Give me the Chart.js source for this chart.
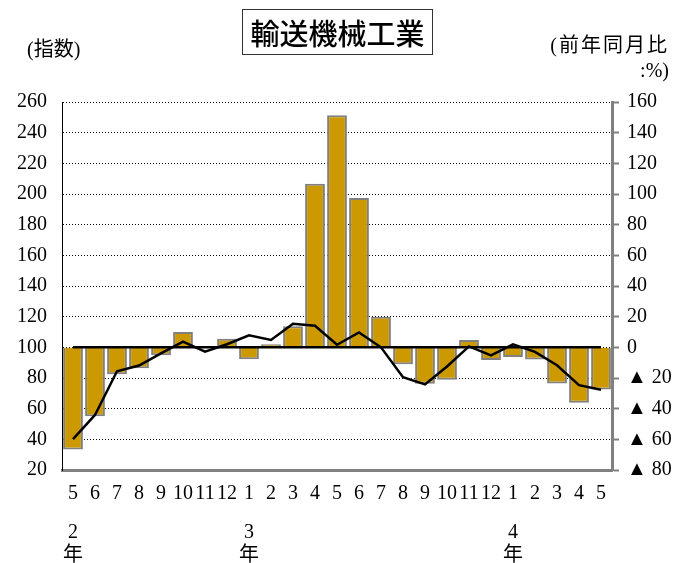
<!DOCTYPE html>
<html>
<head>
<meta charset="utf-8">
<script src="https://cdn.jsdelivr.net/npm/chart.js@4/dist/chart.umd.min.js"></script>
<style>
  body { margin: 0; background: #fff; }
  #wrap { position: relative; width: 682px; height: 563px; }
  #chart { position: absolute; left: 0; top: 0; }
  .lbl { position: absolute; font-family: "Liberation Serif", "Noto Sans CJK JP", serif; font-size: 20px; color: #000; white-space: nowrap; line-height: 1; }
  #title {
    position: absolute; left: 242px; top: 9px; width: 189px; height: 44px;
    border: 1px solid #333; text-align: center; line-height: 44px;
    font-family: "Noto Sans CJK JP", sans-serif; font-size: 29px; font-weight: 500; color: #000;
  }
</style>
</head>
<body>
<div id="wrap">
  <canvas id="chart" width="682" height="563"></canvas>
  <div id="title">輸送機械工業</div>
  <div class="lbl" style="left:27px; top:39px;">(指数)</div>
  <div class="lbl" style="right:13px; top:35px; letter-spacing:2px;">(前年同月比</div>
  <div class="lbl" style="right:13px; top:60px;">:%)</div>
</div>
<script>
// ============================================================
// 輸送機械工業 · 指数と前年同月比
// ============================================================
const MONTHS = ["5", "6", "7", "8", "9", "10", "11", "12", "1", "2", "3", "4",
                "5", "6", "7", "8", "9", "10", "11", "12", "1", "2", "3", "4", "5"];
const YEAR_LABELS = ["2", "", "", "", "", "", "", "", "3", "", "", "",
                     "", "", "", "", "", "", "", "", "4", "", "", "", ""];

// 前年同月比 (%) — bars, right axis
const YOY = [-66.6, -45, -17.5, -13.6, -5.2, 10, 0.5, 5.6, -7.8, 2, 13.8, 106.7,
             151.3, 97.4, 20, -11, -23.8, -21.2, 4.8, -8.2, -6.3, -8, -23.6, -36.1, -27.5];

// 指数 — line, left axis
const INDEX = [40.1, 55.9, 84.4, 88.1, 96, 103.7, 97.2, 102, 107.8, 104.8, 115.4, 114.1,
               101.7, 109.7, 100, 80.5, 75.8, 87.5, 100.6, 94.8, 102, 97, 88.3, 75.3, 72.3];

// 基準線 (指数 = 100)
const BASE = MONTHS.map(() => 100);

const LEFT_TICKS = { min: 20, max: 260, step: 20 };
const RIGHT_TICKS = { min: -80, max: 160, step: 20 };

const TICK_FONT = { family: "'Liberation Serif', 'Noto Sans CJK JP', serif", size: 20 };

new Chart(document.getElementById("chart"), {
  data: {
    labels: MONTHS,
    datasets: [
      {
        type: "line",
        data: BASE,
        yAxisID: "y",
        borderColor: "#000",
        borderWidth: 2.5,
        pointRadius: 0,
        order: 1,
      },
      {
        type: "line",
        data: INDEX,
        yAxisID: "y",
        borderColor: "#000",
        borderWidth: 2.5,
        pointRadius: 0,
        tension: 0,
        order: 0,
      },
      {
        type: "bar",
        data: YOY,
        yAxisID: "y1",
        backgroundColor: "#CC9900",
        borderColor: "#808080",
        borderWidth: 2,
        barPercentage: 0.9,
        categoryPercentage: 1,
        order: 2,
      },
    ],
  },
  options: {
    responsive: false,
    animation: false,
    layout: { padding: { top: 102, left: 0, right: 0, bottom: 0 } },
    plugins: { legend: { display: false }, tooltip: { enabled: false } },
    scales: {
      x: {
        type: "category",
        position: "bottom",
        offset: true,
        weight: 0,
        grid: { display: false, drawTicks: false },
        border: { color: "#808080", width: 3 },
        ticks: { color: "#000", font: TICK_FONT, padding: 12, maxRotation: 0, autoSkip: false },
        afterFit: (s) => { s.height = 37; },
      },
      x2: {
        type: "category",
        position: "bottom",
        offset: true,
        weight: 1,
        grid: { display: false, drawTicks: false },
        border: { display: false },
        ticks: {
          color: "#000",
          font: { ...TICK_FONT, lineHeight: 1.15 },
          padding: 14,
          maxRotation: 0,
          autoSkip: false,
          callback: (v, i) => (YEAR_LABELS[i] ? [YEAR_LABELS[i], "年"] : ""),
        },
        afterFit: (s) => { s.height = 56; },
      },
      y: {
        position: "left",
        min: LEFT_TICKS.min,
        max: LEFT_TICKS.max,
        grid: { color: "#000", lineWidth: 1, drawTicks: false },
        border: { color: "#000", width: 1, dash: [1, 2] },
        ticks: { stepSize: LEFT_TICKS.step, color: "#000", font: TICK_FONT, padding: 15 },
        afterFit: (s) => { s.width = 62; },
      },
      y1: {
        position: "right",
        min: RIGHT_TICKS.min,
        max: RIGHT_TICKS.max,
        grid: { drawOnChartArea: false, drawTicks: true, tickLength: 7, color: "#808080", tickWidth: 2 },
        border: { color: "#808080", width: 3 },
        ticks: {
          stepSize: RIGHT_TICKS.step,
          color: "#000",
          font: TICK_FONT,
          padding: 8,
          callback: (v) => (v < 0 ? "▲ " + Math.abs(v) : String(v)),
        },
        afterFit: (s) => { s.width = 70; },
      },
    },
  },
});
</script>
</body>
</html>
